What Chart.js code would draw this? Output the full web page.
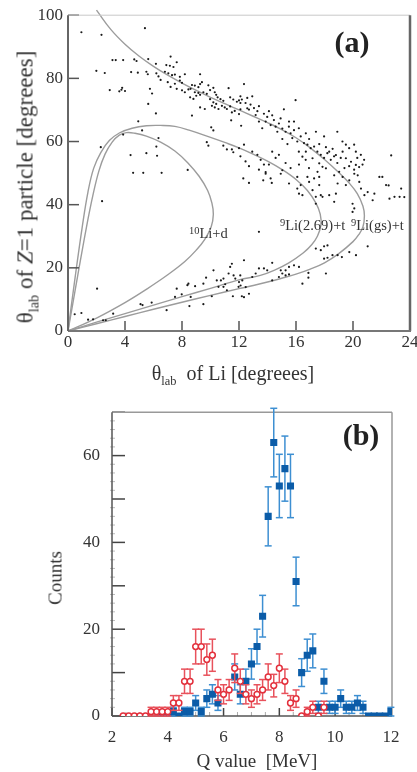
<!DOCTYPE html>
<html>
<head>
<meta charset="utf-8">
<script src="https://cdn.jsdelivr.net/npm/chart.js@4.4.0/dist/chart.umd.min.js"></script>
<style>
  body { margin:0; background:#fff; width:417px; height:772px; position:relative; overflow:hidden;
         font-family:'Liberation Serif','Times New Roman',serif; color:#333; }
  canvas { position:absolute; left:0; }
  #chartA { top:0; }
  #chartB { top:390px; }
  .t { position:absolute; white-space:nowrap; line-height:1; }
  .rot { transform:translate(-50%,-50%) rotate(-90deg); }
  .ctr { transform:translate(-50%,-50%); }
  sub { font-size:0.62em; vertical-align:-0.4em; line-height:0; }
  sup { font-size:0.72em; vertical-align:0.38em; line-height:0; }
  .panel { font-weight:bold; font-size:30px; color:#222; }
  .curve { font-size:14.5px; }
</style>
</head>
<body>
<canvas id="chartA" width="417" height="390"></canvas>
<canvas id="chartB" width="417" height="382"></canvas>

<div class="t rot" style="left:25px;top:187px;font-size:23px">θ<sub>lab</sub> of <i>Z</i>=1 particle [degreees]</div>
<div class="t ctr" style="left:233px;top:373px;font-size:20px">θ<sub>lab</sub>&nbsp; of Li [degreees]</div>
<div class="t ctr panel" style="left:352px;top:42px">(a)</div>
<div class="t curve" style="left:189px;top:226px"><sup>10</sup>Li+d</div>
<div class="t curve" style="left:280px;top:218px"><sup>9</sup>Li(2.69)+t</div>
<div class="t curve" style="left:351px;top:218px"><sup>9</sup>Li(gs)+t</div>

<div class="t rot" style="left:55px;top:578px;font-size:19px">Counts</div>
<div class="t ctr" style="left:257px;top:760px;font-size:19px">Q value&nbsp; [MeV]</div>
<div class="t ctr panel" style="left:361px;top:435px">(b)</div>

<script>
// ---- panel (a): measured events, θlab(Li) vs θlab(Z=1) ----
const events = [
  [0.94,94.6],[2.35,93.8],[5.4,95.9],[3.12,85.8],[3.35,85.8],[3.87,85.8],[4.65,86],[4.81,85.5],[1.99,82.4],[2.58,81.7],
  [4.43,82],[4.9,81.8],[3.6,75.9],[3.75,76.4],[3.8,77],[2.93,76.3],[4.0,76],[5.5,82.1],[5.6,81.3],[6.17,84.6],
  [5.63,86.1],[7.2,86.9],[7.63,85.1],[7.15,84],[7.4,83.6],[6.9,84.2],[6.8,82.1],[7.04,81.6],[7.3,81],[7.5,81.2],
  [7.85,80.5],[6.2,81.6],[6.35,80.6],[6.5,79.5],[5.75,76.7],[5.9,75.2],[7.0,78.8],[7.2,77.3],[7.5,78.3],[7.85,79.3],
  [8.0,78.6],[8.2,81.3],[7.63,76.7],[8.0,76.2],[8.2,75.6],[8.45,76.5],[8.6,76.7],[8.7,77.9],[8.9,77.7],[9.15,77.2],
  [9.27,78.2],[9.4,78.8],[9.27,81.3],[8.9,75.6],[9.15,75.4],[9.27,74.8],[9.5,75.6],[9.74,75.1],[8.57,74],[8.8,73.5],
  [9.0,74.5],[9.85,77.8],[9.97,76.3],[10.2,77],[10.3,75.6],[10.4,74.8],[10.5,74.0],[9.97,73.4],[10.2,72.4],[10.4,71.9],
  [10.7,73.4],[10.9,72.9],[10.1,71.3],[10.3,70.8],[10.56,70.3],[10.8,71.3],[11.0,70.8],[11.15,70.3],[11.38,71.1],[11.38,74],
  [11.6,73.3],[11.85,72.6],[12.1,72.2],[11.27,76.9],[11.5,69.2],[11.7,69.7],[12.0,68.7],[12.1,70.2],[11.45,66.7],[9.27,70.8],
  [9.6,70.3],[8.7,68.2],[5.63,71.9],[6.17,68.9],[4.93,66.4],[10.05,64.5],[10.2,63.5],[9.74,59.8],[9.85,58.7],[10.9,58.7],
  [11.15,57.5],[11.5,57.5],[11.6,56.6],[5.5,56.3],[6.2,58.4],[6.25,55.5],[6.35,61.1],[5.2,63.5],[2.3,58.2],[4.39,55.7],
  [8.4,51],[3.87,62.2],[12.15,65],[12.0,73],
  [12.35,78.2],[12.1,74.3],[12.2,73.3],[12.58,73.8],[12.93,74.3],[12.46,72.2],[12.81,71.7],[12.7,70.1],[13.05,70.6],[13.29,69.6],
  [13.4,71.2],[13.75,68.8],[13.98,67.8],[14.1,69.6],[14.33,68.3],[13.87,66.3],[14.22,65.2],[14.45,66.8],[14.57,64.7],[14.8,65.7],
  [15.04,64.1],[15.27,63.1],[15.5,64.7],[15.62,62.6],[15.86,63.6],[15.97,73.1],[15.15,70.2],[15.74,61.1],[16.09,60],[16.33,61.6],
  [16.56,59.5],[16.8,59],[17.03,57.9],[17.27,58.4],[17.4,63.1],[17.97,61.6],[17.5,56.8],[17.74,55.8],[17.97,54.8],[18.2,56.3],
  [18.44,54.2],[18.67,55.3],[18.9,53.2],[19.14,54.8],[18.9,63.1],[19.26,60],[19.5,59],[19.73,57.9],[20.08,59],[20.2,56.8],
  [20.3,54.8],[20.55,55.8],[20.78,54.2],[20.67,52.7],[22.68,55.6],[19.4,51.6],[19.73,52.2],[20.08,51.1],[20.43,51.9],[14.33,56.8],
  [14.57,54.8],[14.8,55.8],[14.1,52.7],[15.27,53.2],[15.62,51.6],[16.21,52.7],[16.68,54.2],[16.91,51.6],[12.93,56.8],[13.29,55.8],
  [13.52,54.2],[13.75,52.7],[12.0,57.9],[12.35,59],
  [15.04,60.8],[15.4,59.2],[16.2,56.8],[16.45,55.2],[16.69,56.8],[17.16,54.7],[17.63,53.1],[17.86,52.0],[18.1,51.5],[18.33,56.8],
  [18.57,57.7],[18.8,55.7],[19.27,56.8],[19.5,54.7],[19.86,53.6],[20.2,52.6],[17.63,59.2],[18.1,58.2],[16.2,64.2],[16.69,62.6],
  [16.92,60.8],[13.4,66.3],[13.63,64.2],[13.17,68.4],[12.58,70.5],[14.69,63.1],[14.92,67.3],[15.51,66.3],[15.86,66.3],
  [12.1,55.3],[12.46,53.7],[12.7,52.2],[13.4,51.1],[13.87,50.3],[12.3,48.3],[12.7,46.9],[13.7,47.7],[14.3,46.9],
  [13.87,49.8],[14.22,48.3],[14.93,49.8],[15.04,50.9],[15.51,46.7],[16.09,48.8],[16.33,46.2],[16.09,45.1],[16.21,43.5],[16.45,43.0],
  [16.8,48.8],[16.92,47.2],[17.27,48.3],[17.51,50.4],[17.63,48.8],[17.63,46.2],[17.16,44.6],[17.39,42.5],[17.74,43.0],[17.39,40.3],
  [17.86,42.5],[18.33,43.0],[18.68,40.9],[18.8,43.5],[18.92,46.7],[18.68,49.3],[19.03,50.4],[19.27,48.8],[19.5,46.2],[19.74,47.7],
  [20.09,49.8],[20.33,49.3],[20.44,47.2],[20.56,45.1],[20.8,43.0],[21.03,44.0],[21.5,43.5],[21.38,41.4],[21.85,48.8],[22.32,46.2],
  [22.56,41.9],[22.91,42.5],[23.27,42.5],[23.38,45.1],[19.97,40.3],[20.09,38.8],[19.97,37.7],[22.5,46.1],[22.06,48.8],[23.6,42.4],
  [13.4,31.4],[17.39,26.1],[17.74,25.6],[17.97,26.8],[18.21,27.1],[17.97,22.9],[18.21,23.2],[18.56,24.0],[18.92,24.0],[19.22,23.4],
  [19.74,25],[20.21,24],[21.03,26.8],[18.1,18.2],[16.87,18.4],[16.87,16.9],[16.45,15.0],[16.21,20.3],[15.86,20.8],[15.51,20.3],
  [15.27,19.2],[14.93,19.2],[15.04,18.2],[15.27,17.6],[15.51,17.9],[14.8,17.1],[14.33,21.6],[13.98,19.2],[13.75,19.8],[13.4,19.8],
  [12.93,17.1],[13.17,18.2],[12.35,22.4],[12.23,16.0],[12.47,13.9],[12.7,11.8],[12.35,10.7],[12.11,14.4],[12.0,15.5],[14.33,16.0],
  [4.57,50.1],[5.28,50.1],[6.57,50.1],[2.39,41.1],[2.04,13.4],[0.47,5.3],[0.94,5.7],[1.41,3.6],[1.76,3.7],[2.46,3.4],
  [2.65,3.4],[3.17,5.5],[5.09,8.5],[5.23,8.2],[5.87,9.0],[6.92,6.6],[7.63,13.4],[7.51,10.8],[7.98,11.6],[8.38,14.5],
  [8.92,14.2],[8.45,15.0],[9.5,15.0],[9.69,16.9],[10.21,19.2],[10.44,16.0],[10.73,16.0],[10.91,16.6],[11.03,14.8],[11.15,12.9],
  [11.27,18.2],[11.38,20.3],[11.5,21.3],[11.62,17.6],[11.57,11.0],[11.74,16.6],[11.97,14.0],[12.09,17.6],[12.2,11.0],[10.91,14.0],
  [10.56,14.0],[10.09,11.0],[9.5,8.5],[8.52,7.9],[8.61,10.8]
];

// kinematic loci
const liDCurve = [
  [0,0],[0.7,18],[1.3,33],[1.75,43],[2.17,50.7],[2.6,56],[3.1,59.8],[3.6,62],[4.1,62.8],[4.7,62.6],
  [5.5,61.7],[6.5,59.8],[7.5,57],[8.4,53.3],[9.2,49],[9.8,44.5],[10.1,40.5],[10.2,37],[10.05,33],[9.6,29],
  [9.0,25.6],[8.2,22],[7,17.8],[5.5,13.2],[4,9.0],[2,4.1],[0,0]
];
const li269Curve = [
  [0,0],[0.5,17],[1.0,33],[1.4,44],[1.8,51.5],[2.3,56.5],[2.9,60.3],[3.6,62.7],[4.5,64.2],[5.5,65],
  [6.5,65.1],[7.5,64.8],[8.5,63.6],[10,61.3],[11,59.7],[12,58],[13,56],[14,53.8],[15,51.2],[16,48],
  [16.8,44.5],[17.4,40.5],[17.7,37],[17.75,33.5],[17.5,30],[17.1,27.3],[16.5,24.7],[15.5,21.6],[14.5,19.3],[13.5,17.6],
  [12,16.2],[10,13.5],[8,10.9],[6,8.2],[4,5.5],[2,2.8],[0,0]
];
const liGsCurve = [
  [0,0],[2,2.3],[4,4.6],[6,6.9],[8,9.1],[10,11.3],[12,13.4],[13,14.4],[14,15.5],[15,16.7],
  [16,18.0],[17,19.6],[18,21.6],[19,24.5],[20,28.3],[20.4,30.5],[20.7,33],[20.8,36.5],[20.7,39.5],[20.3,43.5],
  [19.7,47],[19,50.2],[18,54.3],[17,58],[16,61.2],[15,63.8],[14,66],[13,68],[12,70],[11,72],
  [10,74],[9,76.2],[8,78.5],[7,81],[6,83.8],[5,87],[4,90.8],[3,95.5],[2,101.6]
];

// ---- panel (b): Q-value spectra ----
const qBlue      = [3.8,4.0,4.2,4.4,4.6,4.8,5.0,5.2,5.4,5.6,5.8,6.4,6.6,6.8,7.0,7.2,7.4,7.6,7.8,8.0,8.2,8.4,8.6,8.8,9.0,9.2,9.4,9.6,9.8,10.0,10.2,10.4,10.6,10.8,11.0,11.2,11.4,11.6,11.8,12.0];
const countsBlue = [0,0,1,0,1,1,3,1,4,5,3,9,5,8,12,16,23,46,63,53,57,53,31,10,14,15,2,8,2,2,4,2,2,3,2,0,0,0,0,1];
const errBlue    = [0,0,1,0,1,1,1.7,1,2,2.2,1.7,3,2.2,2.8,3.5,4,4.8,6.8,7.9,7.3,7.5,7.3,5.6,3.2,3.7,3.9,1.4,2.8,1.4,1.4,2,1.4,1.4,1.7,1.4,0,0,0,0,1];

const qRed      = [2.4,2.6,2.8,3.0,3.2,3.4,3.6,3.8,4.0,4.2,4.4,4.6,4.8,5.0,5.2,5.4,5.6,5.8,6.0,6.2,6.4,6.6,6.8,7.0,7.2,7.4,7.6,7.8,8.0,8.2,8.4,8.6,8.8,9.0,9.2,9.4,9.6];
const countsRed = [0,0,0,0,0,1,1,1,1,3,3,8,8,16,16,13,14,6,5,6,11,8,5,4,5,6,9,7,11,8,3,4,0,1,2,0,2];
const errRed    = [0,0,0,0,0,1,1,1,1,1.7,1.7,2.8,2.8,4,4,3.6,3.7,2.4,2.2,2.4,3.3,2.8,2.2,2,2.2,2.4,3,2.6,3.3,2.8,1.7,2,0,1,1.4,0,1.4];

const xTicksA = [0,4,8,12,16,20,24];
const yTicksA = [0,20,40,60,80,100];

Chart.defaults.font.family = "'Liberation Serif','Times New Roman',serif";
Chart.defaults.color = '#333';

const toXY = arr => arr.map(p => ({ x: p[0], y: p[1] }));
const zipXY = (xs, ys) => xs.map((x, i) => ({ x: x, y: ys[i] }));

function line(ctx, x1, y1, x2, y2, color, w) {
  ctx.strokeStyle = color; ctx.lineWidth = w;
  ctx.beginPath(); ctx.moveTo(x1, y1); ctx.lineTo(x2, y2); ctx.stroke();
}

// frame + inward ticks for panel (a)
const frameA = {
  id: 'frameA',
  afterDatasetsDraw(chart) {
    const { ctx, chartArea: a, scales: { x, y } } = chart;
    ctx.save();
    xTicksA.forEach(v => { const px = x.getPixelForValue(v); line(ctx, px, a.bottom, px, a.bottom - 10, '#555', 1.5); });
    yTicksA.forEach(v => { const py = y.getPixelForValue(v); line(ctx, a.left, py, a.left + 11, py, '#555', 1.5); });
    line(ctx, a.left, a.top, a.right, a.top, '#c8c8c8', 1);
    line(ctx, a.right, a.top, a.right, a.bottom, '#666', 2.5);
    line(ctx, a.left, a.bottom, a.right + 1, a.bottom, '#777', 2);
    line(ctx, a.left, a.top, a.left, a.bottom, '#666', 2);
    ctx.restore();
  }
};

// frame + inward ticks for panel (b)
const frameB = {
  id: 'frameB',
  beforeDatasetsDraw(chart) {
    const { ctx, chartArea: a, scales: { x, y } } = chart;
    ctx.save();
    for (let v = 0; v <= 70; v += 2) {
      const py = y.getPixelForValue(v);
      if (v % 10 === 0) line(ctx, a.left, py, a.left + 13, py, '#444', 1.5);
      else line(ctx, a.left - 2, py, a.left + 3, py, '#bbb', 1);
    }
    for (let v = 2; v <= 12; v += 0.5) {
      const px = x.getPixelForValue(v);
      if (v % 2 === 0) line(ctx, px, a.bottom, px, a.bottom - 8, '#444', 1.5);
      else line(ctx, px, a.bottom, px, a.bottom - 4, '#aaa', 1);
    }
    line(ctx, a.left, a.top, a.right, a.top, '#999', 1.5);
    line(ctx, a.right, a.top, a.right, a.bottom, '#999', 1.5);
    line(ctx, a.left, a.bottom, a.right, a.bottom, '#555', 1.5);
    line(ctx, a.left, a.top, a.left, a.bottom, '#555', 1.5);
    ctx.restore();
  }
};

// vertical error bars with caps, drawn just under each dataset's markers
const errorBars = {
  id: 'errorBars',
  beforeDatasetDraw(chart, args) {
    const ds = chart.data.datasets[args.index];
    if (!ds.errors) return;
    const { ctx, scales: { x, y } } = chart;
    ctx.save();
    ds.data.forEach((p, i) => {
      const e = ds.errors[i];
      if (!e) return;
      const px = x.getPixelForValue(p.x);
      const top = y.getPixelForValue(p.y + e);
      const bot = y.getPixelForValue(Math.max(0, p.y - e));
      line(ctx, px, top, px, bot, ds.errorColor, 1.5);
      line(ctx, px - 3.5, top, px + 3.5, top, ds.errorColor, 1.5);
      line(ctx, px - 3.5, bot, px + 3.5, bot, ds.errorColor, 1.5);
    });
    ctx.restore();
  }
};

const curveStyle = { type: 'line', showLine: true, pointRadius: 0, borderColor: '#9c9c9c',
                     borderWidth: 1.4, tension: 0.4, fill: false, clip: false };

new Chart(document.getElementById('chartA'), {
  type: 'scatter',
  data: {
    datasets: [
      { data: toXY(events), pointRadius: 1.1, pointBackgroundColor: '#1a1a1a', pointBorderWidth: 0 },
      Object.assign({ data: toXY(liDCurve) }, curveStyle),
      Object.assign({ data: toXY(li269Curve) }, curveStyle),
      Object.assign({ data: toXY(liGsCurve) }, curveStyle)
    ]
  },
  options: {
    responsive: false, animation: false, events: [],
    layout: { padding: { top: 15, right: 7, left: 0, bottom: 0 } },
    plugins: { legend: { display: false }, tooltip: { enabled: false } },
    scales: {
      x: { type: 'linear', min: 0, max: 24,
           grid: { display: false, drawTicks: false }, border: { display: false },
           afterBuildTicks: s => { s.ticks = xTicksA.map(v => ({ value: v })); },
           afterFit: s => { s.height = 59; s.paddingLeft = 0; s.paddingRight = 0; },
           ticks: { padding: 1, font: { size: 17 }, color: '#333' } },
      y: { min: 0, max: 100,
           grid: { display: false, drawTicks: false }, border: { display: false },
           afterBuildTicks: s => { s.ticks = yTicksA.map(v => ({ value: v })); },
           afterFit: s => { s.width = 68; },
           ticks: { padding: 5, font: { size: 17 }, color: '#333' } }
    }
  },
  plugins: [frameA]
});

new Chart(document.getElementById('chartB'), {
  type: 'scatter',
  data: {
    datasets: [
      { data: zipXY(qRed, countsRed), errors: errRed, errorColor: '#e8525c',
        pointStyle: 'circle', pointRadius: 2.9, pointBorderWidth: 1.5,
        pointBorderColor: '#e3303c', pointBackgroundColor: '#fff' },
      { data: zipXY(qBlue, countsBlue), errors: errBlue, errorColor: '#3d8fd2',
        pointStyle: 'rect', pointRadius: 5, pointBorderWidth: 0,
        pointBackgroundColor: '#0b5ca8' }
    ]
  },
  options: {
    responsive: false, animation: false, events: [],
    layout: { padding: { top: 20, right: 25, left: 0, bottom: 0 } },
    plugins: { legend: { display: false }, tooltip: { enabled: false } },
    scales: {
      x: { type: 'linear', min: 2, max: 12.04,
           grid: { display: false, drawTicks: false }, border: { display: false },
           afterFit: s => { s.height = 56; },
           ticks: { stepSize: 2, includeBounds: false, padding: 11, font: { size: 17 }, color: '#333' } },
      y: { min: 0, max: 70,
           grid: { display: false, drawTicks: false }, border: { display: false },
           afterFit: s => { s.width = 112; },
           ticks: { stepSize: 10, padding: 12, font: { size: 17 }, color: '#333',
                    callback: v => (v % 20 === 0 ? v : '') } }
    }
  },
  plugins: [frameB, errorBars]
});
</script>
</body>
</html>
